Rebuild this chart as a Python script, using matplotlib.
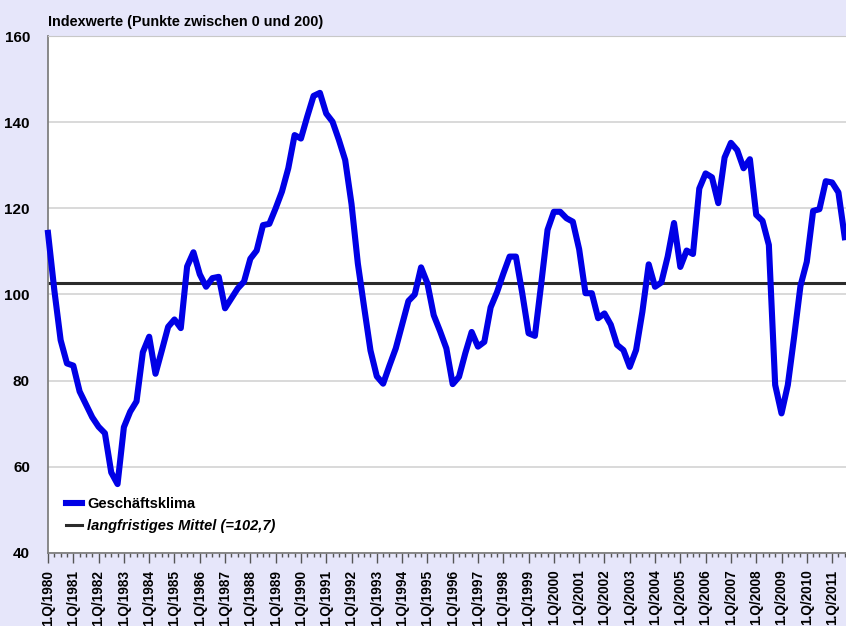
import matplotlib
matplotlib.use("Agg")
import matplotlib.pyplot as plt
from matplotlib.ticker import MultipleLocator

# quarterly values 1.Q/1980 .. 3.Q/2011
geschaeftsklima = [
    114.3, 101.0, 89.4, 84.0,      # 1980
    83.5, 77.5, 74.5, 71.5,        # 1981
    69.3, 67.8, 58.7, 56.0,        # 1982
    69.2, 72.8, 75.2, 86.6,        # 1983
    90.2, 81.6, 87.0, 92.5,        # 1984
    94.2, 92.2, 106.5, 109.8,      # 1985
    104.7, 101.8, 103.8, 104.1,    # 1986
    96.8, 99.1, 101.4, 103.0,      # 1987
    108.3, 110.2, 116.1, 116.4,    # 1988
    120.0, 123.9, 129.3, 137.0,    # 1989
    136.2, 141.3, 146.1, 146.8,    # 1990
    142.0, 140.1, 135.9, 131.2,    # 1991
    121.0, 107.2, 97.0, 87.0,      # 1992
    81.0, 79.3, 83.5, 87.5,        # 1993
    93.0, 98.5, 100.0, 106.3,      # 1994
    102.6, 95.2, 91.5, 87.5,       # 1995
    79.2, 80.9, 86.4, 91.3,        # 1996
    87.9, 89.0, 97.0, 100.5,       # 1997
    104.8, 108.8, 108.8, 100.3,    # 1998
    91.0, 90.4, 102.5, 115.0,      # 1999
    119.2, 119.2, 117.7, 116.9,    # 2000
    110.5, 100.3, 100.3, 94.5,     # 2001
    95.6, 93.0, 88.3, 87.1,        # 2002
    83.2, 87.1, 96.0, 107.0,       # 2003
    101.8, 102.8, 108.8, 116.6,    # 2004
    106.4, 110.2, 109.4, 124.6,    # 2005
    128.1, 127.2, 121.2, 131.8,    # 2006
    135.2, 133.5, 129.3, 131.4,    # 2007
    118.5, 117.1, 111.5, 79.0,     # 2008
    72.4, 79.0, 90.2, 102.0,       # 2009
    107.6, 119.4, 119.8, 126.3,    # 2010
    126.0, 123.7, 113.3,           # 2011
]
mittel = 102.7
years = list(range(1980, 2012))
tick_labels = ["1.Q/%d" % y for y in years]
y_ticks = [40, 60, 80, 100, 120, 140, 160]

W, H = 846, 626
fig = plt.figure(figsize=(W / 100, H / 100), dpi=100, facecolor="#E6E6FA")
plt.rcParams["font.family"] = ["Liberation Sans", "DejaVu Sans"]

ax = fig.add_axes([48 / W, (H - 553) / H, 798 / W, 517 / H])
ax.set_facecolor("white")

xs = list(range(len(geschaeftsklima)))
ax.plot(xs, geschaeftsklima, color="#0000E6", lw=4.4, solid_joinstyle="round",
        label="Geschäftsklima", zorder=3, clip_on=False)
ax.axhline(mittel, color="#2b2b2b", lw=2.2, zorder=2,
           label="langfristiges Mittel (=102,7)")

ax.set_ylim(40, 160)
ax.set_xlim(0, 126.2)
ax.set_yticks(y_ticks)
ax.set_yticklabels([str(v) for v in y_ticks], fontsize=11, fontweight="bold")
ax.tick_params(axis="y", length=0, pad=13)
ax.yaxis.grid(True, color="#d0d0d0", lw=1.1)
ax.set_axisbelow(True)

ax.set_xticks(range(0, 4 * len(years), 4))
ax.set_xticklabels(tick_labels, rotation=90, fontsize=9.8, fontweight="bold")
ax.xaxis.set_minor_locator(MultipleLocator(1))
ax.tick_params(axis="x", which="major", length=7, width=1, color="#555555", pad=5)
ax.tick_params(axis="x", which="minor", length=3.2, width=1, color="#555555")

ax.spines["right"].set_visible(False)
ax.spines["top"].set_color("#c8c8c8")
ax.spines["left"].set_color("#808080")
ax.spines["left"].set_linewidth(1.3)
ax.spines["bottom"].set_color("#808080")
ax.spines["bottom"].set_linewidth(1.3)

leg = ax.legend(loc="upper left", bbox_to_anchor=(0.022, 0.108), frameon=False,
                handlelength=1.1, handletextpad=0.4, labelspacing=0.55,
                borderaxespad=0, borderpad=0,
                prop={"size": 10.5, "weight": "bold"})
leg.get_texts()[1].set_style("italic")

fig.text(48 / W, 1 - 22 / H, "Indexwerte (Punkte zwischen 0 und 200)",
         fontsize=10.4, fontweight="bold", va="center", ha="left")

fig.savefig("out.png", dpi=100, facecolor=fig.get_facecolor())
